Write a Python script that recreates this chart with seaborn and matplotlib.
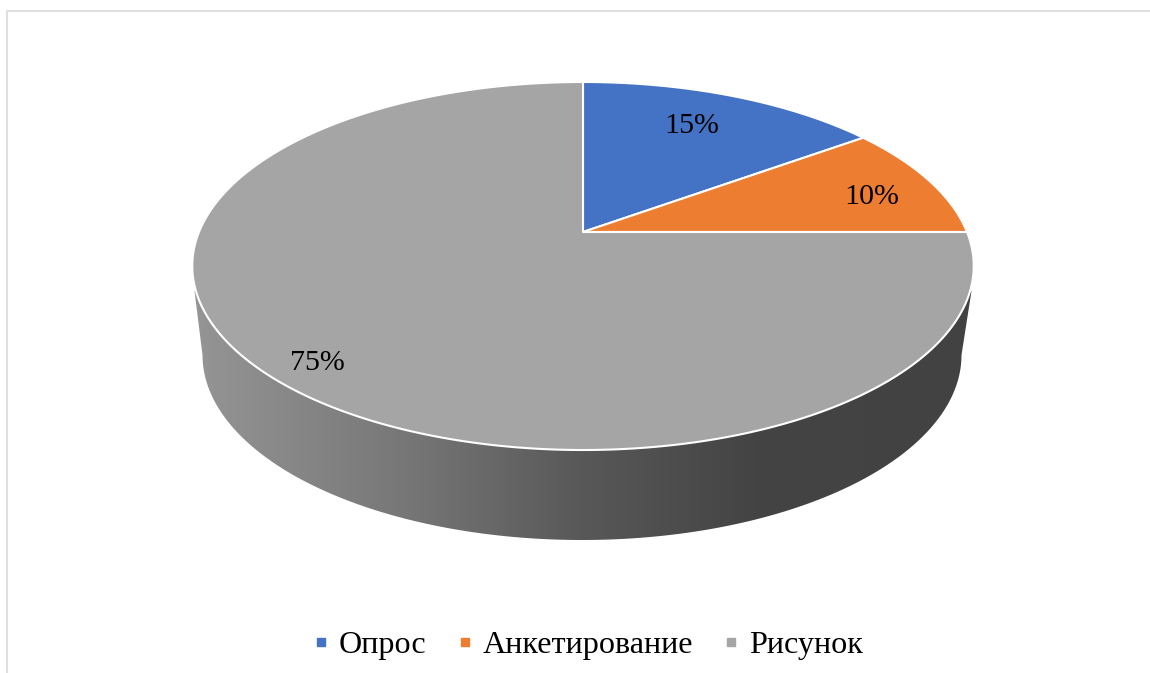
import numpy as np
import matplotlib
matplotlib.use('Agg')
import matplotlib.pyplot as plt
from matplotlib.colors import LinearSegmentedColormap
from matplotlib.lines import Line2D
from matplotlib.patches import Polygon
import seaborn as sns

# Dados do gráfico
categorias = ['Опрос', 'Анкетирование', 'Рисунок']
valores = [15, 10, 75]
cores = ['#4472C4', '#ED7D31', '#A5A5A5']

sns.set_theme(style='white')
plt.rcParams['font.family'] = ['Liberation Serif', 'DejaVu Serif']

# Perspectiva do disco superior (em pixels da imagem)
CX, CY = 583, 232
K, A, C = 384, -134.85, 0.1848


def perspectiva(theta):
    u, v = np.cos(theta), np.sin(theta)
    return CX + K * u / (1 + C * v), (A * v + CY) / (1 + C * v)


fig, ax = plt.subplots(figsize=(11.5, 6.73), dpi=100)
fig.subplots_adjust(0, 0, 1, 1)

# Fatias calculadas pelo próprio pie, depois projetadas
wedges, _ = ax.pie(valores, colors=cores, startangle=90, counterclock=False)
ax.set_aspect('auto')
ax.axis('off')

# Lateral do disco com gradiente
t = np.radians(np.linspace(0, 180, 200))
lat_x = 582 - 379.5 * np.cos(t)
lat_y = 355 + 185 * np.sin(t)
lateral = np.column_stack([np.r_[194.5, lat_x, 971.5], np.r_[291, lat_y, 291]])
cmap = LinearSegmentedColormap.from_list('lateral', [
    (0.0, '#959595'), (0.27, '#777777'), (0.5, '#585858'),
    (0.72, '#444444'), (1.0, '#424242')])
img = ax.imshow(np.linspace(0, 1, 256)[None, :], cmap=cmap, aspect='auto',
                extent=(193, 973, 545, 280), zorder=1)
clip = Polygon(lateral, closed=True, transform=ax.transData, fc='none', ec='none')
ax.add_patch(clip)
img.set_clip_path(clip)
ax.set_xlim(0, 1150)
ax.set_ylim(673, 0)

# Fatias em perspectiva
for w, cor in zip(wedges, cores):
    ang = np.radians(np.linspace(w.theta1, w.theta2, 300))
    x, y = perspectiva(ang)
    w.remove()
    ax.add_patch(Polygon(np.column_stack([np.r_[CX, x], np.r_[CY, y]]), closed=True,
                         fc=cor, ec='white', lw=1.5, zorder=2, joinstyle='round'))

# Rótulos de porcentagem
pos_rotulos = [(692, 126), (872, 197), (317, 363)]
for v, (px, py) in zip(valores, pos_rotulos):
    ax.text(px, py, f'{v}%', fontsize=21.6, color='black', ha='center', va='center', zorder=3)

# Moldura do gráfico
ax.add_line(Line2D([7, 1150], [11, 11], color='#E0E0E0', lw=1.5, zorder=0))
ax.add_line(Line2D([7, 7], [11, 673], color='#E0E0E0', lw=1.5, zorder=0))

# Legenda
marcas = [Line2D([], [], marker='s', ls='', color=c, ms=6) for c in cores]
ax.legend(marcas, categorias, ncol=3, frameon=False, fontsize=23.1, loc='center',
          bbox_to_anchor=(589.5, 645), bbox_transform=ax.transData,
          handlelength=0.3, handletextpad=0.4, columnspacing=1.05,
          borderpad=0, labelcolor='black')

plt.savefig('out.png', dpi=100)
plt.close()
